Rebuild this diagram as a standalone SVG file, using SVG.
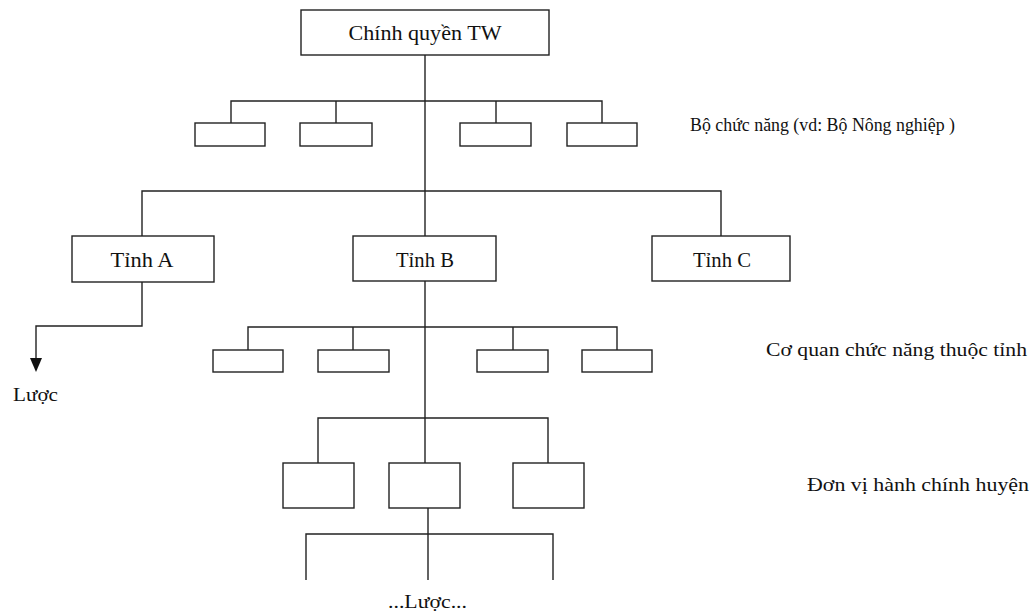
<svg xmlns="http://www.w3.org/2000/svg" width="1034" height="613" viewBox="0 0 1034 613">
<defs>
<style>
.box{fill:#fff;stroke:#222;stroke-width:1.4}
.ln{fill:none;stroke:#222;stroke-width:1.4}
.t{font-family:"Liberation Serif","DejaVu Serif",serif;font-size:20px;fill:#111}
.lbl{font-family:"Liberation Serif","DejaVu Serif",serif;font-size:19.5px;fill:#111}
</style>
</defs>
<rect width="1034" height="613" fill="#fff"/>
<g id="connectors">
<path class="ln" d="M425 55 V236"/>
<path class="ln" d="M231 123 V101 H602 V123 M336 101 V123 M496 101 V123"/>
<path class="ln" d="M142 236 V191 H721 V236"/>
<path class="ln" d="M142 282 V326 H36 V358"/>
<path d="M30 358 L42 358 L36 372 Z" fill="#111"/>
<path class="ln" d="M425 281 V463"/>
<path class="ln" d="M248 350 V327 H617 V350 M353 327 V350 M513 327 V350"/>
<path class="ln" d="M318 463 V418 H548 V463"/>
<path class="ln" d="M428 508 V580 M306 580 V534 H553 V580"/>
</g>
<g id="tw">
<rect class="box" x="301" y="10" width="248" height="45"/>
<text class="t" x="425" y="40" text-anchor="middle" textLength="153" lengthAdjust="spacingAndGlyphs">Chính quyền TW</text>
</g>
<g id="ministries">
<rect class="box" x="195" y="123" width="70" height="23"/>
<rect class="box" x="300" y="123" width="72" height="23"/>
<rect class="box" x="460" y="123" width="71" height="23"/>
<rect class="box" x="567" y="123" width="70" height="23"/>
</g>
<g id="tinhA">
<rect class="box" x="72" y="236" width="142" height="46"/>
<text class="t" x="142" y="267" text-anchor="middle" textLength="63" lengthAdjust="spacingAndGlyphs">Tỉnh A</text>
</g>
<g id="tinhB">
<rect class="box" x="353" y="236" width="143" height="45"/>
<text class="t" x="425" y="267" text-anchor="middle" textLength="58" lengthAdjust="spacingAndGlyphs">Tỉnh B</text>
</g>
<g id="tinhC">
<rect class="box" x="652" y="236" width="138" height="45"/>
<text class="t" x="722" y="267" text-anchor="middle" textLength="58" lengthAdjust="spacingAndGlyphs">Tỉnh C</text>
</g>
<g id="provinceAgencies">
<rect class="box" x="213" y="350" width="70" height="22"/>
<rect class="box" x="318" y="350" width="71" height="22"/>
<rect class="box" x="477" y="350" width="71" height="22"/>
<rect class="box" x="582" y="350" width="70" height="22"/>
</g>
<g id="districts">
<rect class="box" x="283" y="463" width="71" height="45"/>
<rect class="box" x="389" y="463" width="71" height="45"/>
<rect class="box" x="513" y="463" width="71" height="45"/>
</g>
<g id="labels">
<text class="lbl" x="690" y="131" textLength="265" lengthAdjust="spacingAndGlyphs">Bộ chức năng (vd: Bộ Nông nghiệp )</text>
<text class="lbl" x="766" y="356" textLength="261" lengthAdjust="spacingAndGlyphs">Cơ quan chức năng thuộc tỉnh</text>
<text class="lbl" x="807" y="491" textLength="222" lengthAdjust="spacingAndGlyphs">Đơn vị hành chính huyện</text>
<text class="lbl" x="13" y="401" textLength="45" lengthAdjust="spacingAndGlyphs">Lược</text>
<text class="lbl" x="388" y="608" textLength="79" lengthAdjust="spacingAndGlyphs">...Lược...</text>
</g>
</svg>
